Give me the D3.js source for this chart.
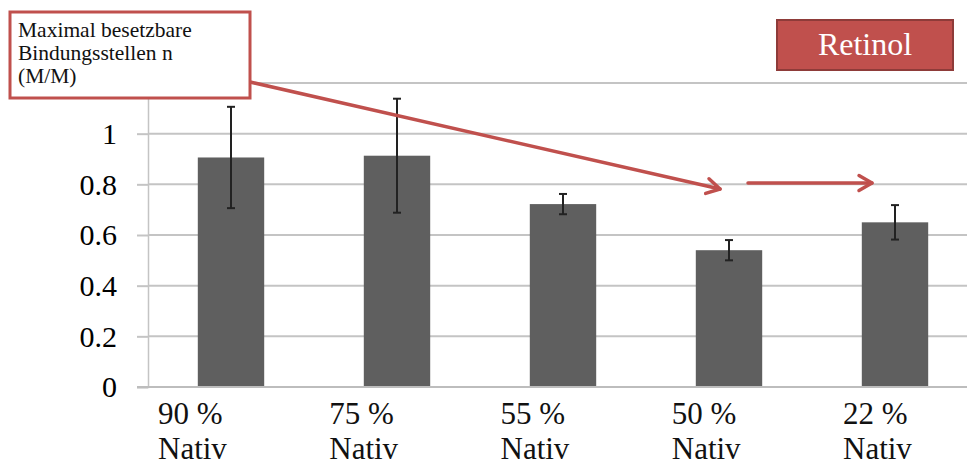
<!DOCTYPE html>
<html>
<head>
<meta charset="utf-8">
<script src="https://cdn.jsdelivr.net/npm/d3@7"></script>
<style>
html,body{margin:0;padding:0;background:#fff;}
svg{display:block;}
</style>
</head>
<body>
<svg id="chart" width="967" height="466"></svg>
<script>
const categories = ["90 %|Nativ", "75 %|Nativ", "55 %|Nativ", "50 %|Nativ", "22 %|Nativ"];
const values = [0.906, 0.913, 0.722, 0.540, 0.650];
const errors = [0.200, 0.225, 0.040, 0.040, 0.068];
const yTicks = [0, 0.2, 0.4, 0.6, 0.8, 1, 1.2];
const annotationLines = ["Maximal besetzbare", "Bindungsstellen n", "(M/M)"];
const badgeText = "Retinol";

const W = 967, H = 466;
const svg = d3.select("#chart");
const serif = "'Liberation Serif', 'Times New Roman', serif";
const red = "#c0504d";

const plotLeft = 148, plotRight = 978, plotTop = 83, plotBottom = 387;

const x = d3.scaleBand().domain(categories).range([plotLeft, plotRight]).paddingInner(0.6).paddingOuter(0.3);
const y = d3.scaleLinear().domain([0, 1.2]).range([plotBottom, plotTop]);
const xLabel = d3.scalePoint().domain(categories).range([158, 843]);

// gridlines
svg.append("g").selectAll("line").data(yTicks).join("line")
  .attr("x1", plotLeft).attr("x2", W)
  .attr("y1", d => y(d)).attr("y2", d => y(d))
  .attr("stroke", "#c4c4c4").attr("stroke-width", 2);

// y axis
const yAxis = svg.append("g").attr("transform", `translate(${plotLeft},0)`)
  .call(d3.axisLeft(y).tickValues(yTicks).tickSize(11).tickPadding(20)
        .tickFormat(d => d3.format("~g")(d)));
yAxis.select(".domain").attr("stroke", "#c4c4c4").attr("stroke-width", 1.5);
yAxis.selectAll(".tick line").attr("stroke", "#c4c4c4").attr("stroke-width", 2);
yAxis.selectAll(".tick text").attr("font-family", serif).attr("font-size", 30)
  .attr("fill", "#000").attr("dy", "0.33em");

// bars
svg.append("g").selectAll("rect").data(categories).join("rect")
  .attr("x", d => x(d)).attr("width", x.bandwidth())
  .attr("y", (d, i) => y(values[i]))
  .attr("height", (d, i) => y(0) - y(values[i]))
  .attr("fill", "#5f5f5f");

// error bars
const eb = svg.append("g").attr("stroke", "#222").attr("stroke-width", 2);
categories.forEach((c, i) => {
  const cx = x(c) + x.bandwidth() / 2;
  const hi = y(values[i] + errors[i]), lo = y(values[i] - errors[i]);
  eb.append("line").attr("x1", cx).attr("x2", cx).attr("y1", hi).attr("y2", lo);
  eb.append("line").attr("x1", cx - 4).attr("x2", cx + 4).attr("y1", hi).attr("y2", hi);
  eb.append("line").attr("x1", cx - 4).attr("x2", cx + 4).attr("y1", lo).attr("y2", lo);
});

// x axis baseline
svg.append("line").attr("x1", 137).attr("x2", W).attr("y1", y(0)).attr("y2", y(0))
  .attr("stroke", "#bdbdbd").attr("stroke-width", 2);

// category labels
const lbl = svg.append("g").attr("font-family", serif).attr("font-size", 31).attr("fill", "#111");
categories.forEach(c => {
  const parts = c.split("|");
  const t = lbl.append("text").attr("x", xLabel(c)).attr("y", 424);
  t.append("tspan").attr("x", xLabel(c)).text(parts[0]);
  t.append("tspan").attr("x", xLabel(c)).attr("dy", 35).text(parts[1]);
});

// arrows
function arrow(x1, y1, x2, y2) {
  const ang = Math.atan2(y2 - y1, x2 - x1);
  const L = 15, a = Math.PI / 6;
  const g = svg.append("g").attr("stroke", red).attr("stroke-width", 3.5)
    .attr("fill", "none").attr("stroke-linecap", "round").attr("stroke-linejoin", "round");
  g.append("line").attr("x1", x1).attr("y1", y1).attr("x2", x2).attr("y2", y2);
  g.append("path").attr("d",
    `M${x2 - L * Math.cos(ang - a)},${y2 - L * Math.sin(ang - a)} L${x2},${y2} L${x2 - L * Math.cos(ang + a)},${y2 - L * Math.sin(ang + a)}`);
}
arrow(250, 82, 720, 189);
arrow(748, 183, 872, 183);

// annotation box
svg.append("rect").attr("x", 10).attr("y", 12).attr("width", 240).attr("height", 86)
  .attr("fill", "#fff").attr("stroke", red).attr("stroke-width", 3);
const at = svg.append("text").attr("font-family", serif).attr("font-size", 21.5).attr("fill", "#111");
annotationLines.forEach((s, i) => {
  at.append("tspan").attr("x", 18).attr("y", 37 + i * 23).text(s);
});

// badge
svg.append("rect").attr("x", 777).attr("y", 20).attr("width", 176).attr("height", 50)
  .attr("fill", red).attr("stroke", "#8e3b39").attr("stroke-width", 2);
svg.append("text").attr("x", 865).attr("y", 55).attr("text-anchor", "middle")
  .attr("font-family", serif).attr("font-size", 32).attr("fill", "#fff").text(badgeText);
</script>
</body>
</html>
